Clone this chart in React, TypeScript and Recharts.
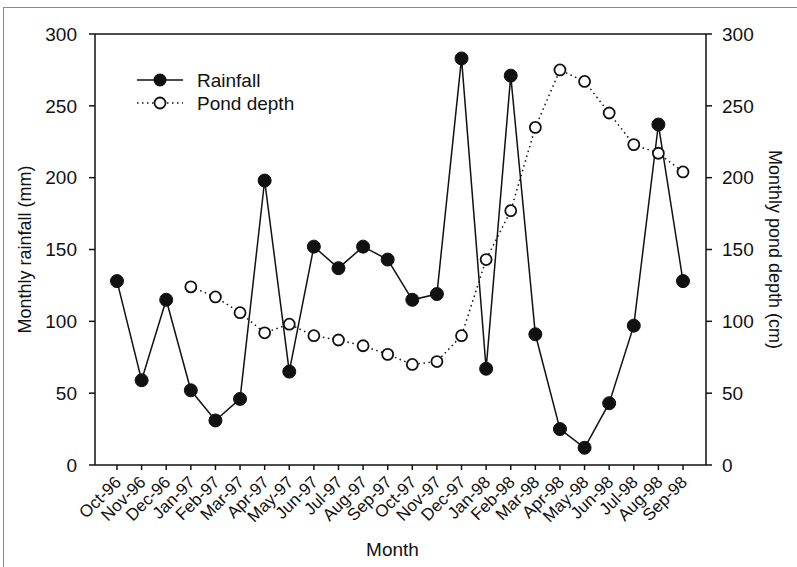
import {
  ComposedChart,
  Line,
  XAxis,
  YAxis,
  ReferenceLine,
  Legend,
} from "recharts";

const months = [
  "Oct-96", "Nov-96", "Dec-96", "Jan-97", "Feb-97", "Mar-97", "Apr-97", "May-97",
  "Jun-97", "Jul-97", "Aug-97", "Sep-97", "Oct-97", "Nov-97", "Dec-97", "Jan-98",
  "Feb-98", "Mar-98", "Apr-98", "May-98", "Jun-98", "Jul-98", "Aug-98", "Sep-98",
];

const rainfall = [
  128, 59, 115, 52, 31, 46, 198, 65, 152, 137, 152, 143,
  115, 119, 283, 67, 271, 91, 25, 12, 43, 97, 237, 128,
];

const pondDepth: (number | null)[] = [
  null, null, null, 124, 117, 106, 92, 98, 90, 87, 83, 77,
  70, 72, 90, 143, 177, 235, 275, 267, 245, 223, 217, 204,
];

const yTicks = [0, 50, 100, 150, 200, 250, 300];

const data = months.map((month, i) => ({
  month,
  rainfall: rainfall[i],
  pond: pondDepth[i],
}));

const FONT = "'Liberation Sans', Arial, sans-serif";
const INK = "#111";

function MonthTick({ x, y, payload }: any) {
  const ax = x + 1;
  const ay = y + 7;
  return (
    <text
      x={ax}
      y={ay}
      transform={`rotate(-45, ${ax}, ${ay})`}
      textAnchor="end"
      dy="0.35em"
      fontSize={17}
      fontFamily={FONT}
      fill={INK}
    >
      {payload.value}
    </text>
  );
}

function ChartLegend() {
  return (
    <svg width={200} height={50} style={{ display: "block" }}>
      <line x1={0} y1={12} x2={46} y2={12} stroke={INK} strokeWidth={1.5} />
      <circle cx={23} cy={12} r={6.5} fill={INK} />
      <text x={60} y={12} dy="0.35em" fontSize={19} fontFamily={FONT} fill={INK}>
        Rainfall
      </text>
      <line x1={0} y1={35} x2={46} y2={35} stroke={INK} strokeWidth={1.5} strokeDasharray="1.5 3.5" />
      <circle cx={23} cy={35} r={5.5} fill="#fff" stroke={INK} strokeWidth={1.8} />
      <text x={60} y={35} dy="0.35em" fontSize={19} fontFamily={FONT} fill={INK}>
        Pond depth
      </text>
    </svg>
  );
}

export default function App() {
  return (
    <div style={{ position: "absolute", left: 0, top: 0, width: 797, height: 567, background: "#fff" }}>
      <div
        style={{
          position: "absolute",
          left: 3,
          top: 7,
          right: -5,
          bottom: -5,
          borderTop: "1.5px solid #888",
          borderLeft: "1.5px solid #888",
        }}
      />
      <ComposedChart
        width={797}
        height={567}
        data={data}
        margin={{ top: 34, right: 0, bottom: 0, left: 0 }}
        style={{ position: "absolute", left: 0, top: 0 }}
      >
        <XAxis
          dataKey="month"
          height={102}
          padding={{ left: 22, right: 23 }}
          interval={0}
          tickSize={5}
          tickMargin={2}
          stroke={INK}
          strokeWidth={1.5}
          tick={<MonthTick />}
          label={{
            value: "Month",
            position: "insideBottom",
            offset: 11,
            dx: -8,
            fontSize: 19,
            fontFamily: FONT,
            fill: INK,
          }}
        />
        <YAxis
          yAxisId="left"
          width={95}
          domain={[0, 300]}
          ticks={yTicks}
          tickSize={6}
          tickMargin={12}
          stroke={INK}
          strokeWidth={1.5}
          tick={{ fontSize: 19, fontFamily: FONT, fill: INK }}
          label={{
            value: "Monthly rainfall (mm)",
            angle: -90,
            position: "center",
            dx: -23,
            fontSize: 18,
            fontFamily: FONT,
            fill: INK,
          }}
        />
        <YAxis
          yAxisId="right"
          orientation="right"
          width={91}
          domain={[0, 300]}
          ticks={yTicks}
          tickSize={6}
          tickMargin={10}
          stroke={INK}
          strokeWidth={1.5}
          tick={{ fontSize: 19, fontFamily: FONT, fill: INK }}
          label={{
            value: "Monthly pond depth (cm)",
            angle: 90,
            position: "center",
            dx: 24,
            fontSize: 18,
            fontFamily: FONT,
            fill: INK,
          }}
        />
        <ReferenceLine yAxisId="left" y={300} stroke={INK} strokeWidth={1.5} />
        <Legend
          layout="horizontal"
          verticalAlign="middle"
          align="center"
          wrapperStyle={{ position: "absolute", left: 137, top: 68, width: 200 }}
          content={() => <ChartLegend />}
        />
        <Line
          yAxisId="left"
          dataKey="rainfall"
          stroke={INK}
          strokeWidth={1.5}
          dot={{ r: 6.5, fill: INK, stroke: INK, strokeWidth: 1 }}
          isAnimationActive={false}
        />
        <Line
          yAxisId="right"
          dataKey="pond"
          stroke={INK}
          strokeWidth={1.5}
          strokeDasharray="1.5 3.5"
          dot={{ r: 5.5, fill: "#fff", stroke: INK, strokeWidth: 1.8, strokeDasharray: "0" }}
          isAnimationActive={false}
        />
      </ComposedChart>
    </div>
  );
}
